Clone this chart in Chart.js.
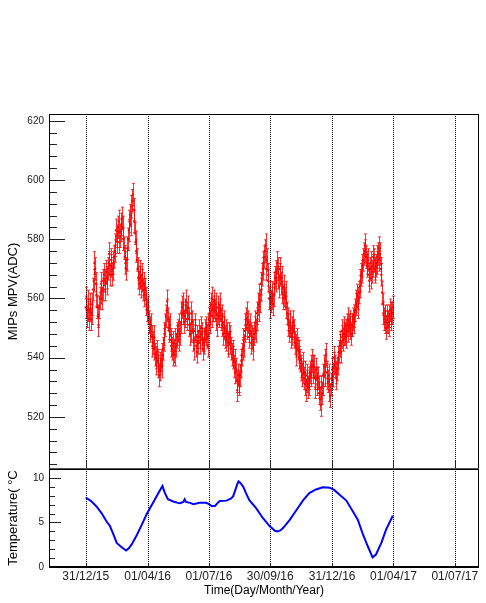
<!DOCTYPE html>
<html>
<head>
<meta charset="utf-8">
<script src="https://cdn.jsdelivr.net/npm/chart.js@4.4.1/dist/chart.umd.min.js"></script>
<style>
body { margin: 0; background: #fff; }
#wrap { position: relative; width: 486px; height: 603px; }
canvas { position: absolute; left: 0; top: 0; }
</style>
</head>
<body>
<div id="wrap">
<canvas id="mpvChart" width="486" height="603"></canvas>
<canvas id="tempChart" width="486" height="603"></canvas>
</div>
<script>
// time axis: days counted from 31/12/2015
let dateTickLabels = ['31/12/15', '01/04/16', '01/07/16', '30/09/16', '31/12/16', '01/04/17', '01/07/17'];
let mpvTicks = [520, 540, 560, 580, 600, 620];
let tempTicks = [0, 5, 10];

// MIPs MPV, one point per day from 31/12/15
let mpvStep = 1;
let mpvValues = [
    557, 560, 554, 556, 559, 553, 556, 558, 553, 555, 558, 563, 566, 572, 570, 565, 561, 557, 554, 551,
    557, 560, 562, 565, 560, 563, 566, 568, 563, 566, 569, 565, 567, 570, 572, 575, 568, 571, 573, 568,
    570, 572, 574, 576, 578, 583, 581, 579, 584, 586, 579, 581, 583, 585, 587, 584, 580, 577, 574, 572,
    570, 573, 577, 580, 583, 586, 588, 585, 591, 593, 595, 590, 586, 582, 579, 576, 573, 570, 567, 565,
    569, 567, 564, 568, 566, 563, 561, 565, 563, 560, 558, 556, 555, 557, 552, 550, 549, 551, 547, 544,
    545, 547, 543, 541, 540, 538, 542, 539, 537, 534, 536, 538, 539, 537, 541, 543, 546, 548, 551, 554,
    556, 559, 553, 550, 549, 551, 546, 544, 543, 541, 545, 542, 541, 546, 544, 548, 547, 549, 551, 546,
    548, 552, 555, 557, 558, 555, 552, 554, 556, 559, 553, 555, 557, 553, 551, 548, 549, 555, 552, 549,
    546, 543, 549, 551, 544, 542, 547, 545, 549, 547, 545, 550, 548, 546, 543, 545, 546, 549, 550, 548,
    547, 544, 551, 553, 555, 552, 558, 560, 554, 556, 559, 557, 556, 558, 553, 551, 557, 555, 554, 558,
    556, 553, 551, 554, 548, 552, 550, 547, 546, 549, 548, 544, 545, 548, 547, 545, 543, 541, 540, 542,
    537, 539, 535, 536, 532, 529, 534, 532, 531, 534, 537, 539, 541, 543, 546, 544, 549, 551, 553, 555,
    550, 552, 547, 549, 551, 548, 545, 547, 543, 546, 548, 550, 552, 549, 555, 553, 558, 556, 561, 559,
    565, 563, 568, 570, 572, 574, 576, 578, 570, 573, 566, 568, 560, 562, 557, 559, 562, 560, 558, 561,
    565, 567, 569, 566, 572, 570, 567, 564, 570, 568, 565, 567, 562, 560, 564, 561, 560, 562, 557, 555,
    553, 551, 549, 552, 551, 547, 548, 550, 552, 549, 547, 545, 544, 541, 546, 543, 542, 540, 539, 537,
    536, 534, 538, 535, 533, 535, 531, 529, 534, 532, 530, 531, 533, 535, 537, 534, 539, 537, 535, 537,
    533, 530, 536, 533, 531, 533, 528, 530, 526, 524, 530, 528, 534, 531, 537, 534, 539, 541, 535, 533,
    532, 534, 529, 527, 531, 533, 536, 534, 540, 538, 537, 535, 533, 536, 538, 540, 542, 544, 545, 542,
    549, 547, 546, 548, 550, 548, 547, 549, 551, 553, 549, 551, 552, 550, 548, 551, 551, 553, 554, 552,
    556, 558, 559, 561, 557, 560, 562, 564, 566, 568, 569, 571, 573, 575, 576, 578, 574, 572, 571, 573,
    568, 566, 570, 572, 567, 569, 571, 574, 573, 570, 569, 571, 572, 574, 575, 577, 573, 575, 570, 568,
    562, 558, 555, 553, 552, 554, 550, 552, 554, 552, 551, 554, 556, 555, 553, 555, 557
];
let mpvError = 3.8;

let tempDays = [
    0, 8, 16, 24, 31, 36, 41, 46, 53, 60, 64, 68, 76, 83, 91, 100, 108, 114, 117, 122,
    130, 137, 140, 145, 147, 149, 155, 160, 169, 179, 183, 187, 192, 196, 199, 209, 216, 219, 222, 225,
    227, 230, 234, 238, 243, 253, 263, 273, 281, 285, 289, 293, 303, 313, 323, 332, 342, 352, 362, 369,
    377, 387, 397, 404, 411, 419, 426, 431, 439, 446, 456
];
let tempValues = [
    7.8, 7.4, 6.8, 6.0, 5.1, 4.6, 3.7, 2.7, 2.25, 1.85, 2.1, 2.5, 3.6, 4.7, 6.0, 7.2, 8.3, 9.1, 8.4, 7.6,
    7.35, 7.2, 7.15, 7.3, 7.6, 7.3, 7.2, 7.05, 7.2, 7.2, 7.05, 6.85, 6.85, 7.2, 7.4, 7.45, 7.7, 7.95, 8.6, 9.3,
    9.6, 9.4, 9.0, 8.3, 7.5, 6.6, 5.5, 4.6, 4.07, 3.99, 4.1, 4.37, 5.3, 6.4, 7.5, 8.3, 8.7, 8.95, 8.9, 8.65,
    8.1, 7.46, 6.2, 5.3, 3.8, 2.3, 1.08, 1.4, 2.7, 4.2, 5.75
];

function dayFromLabel(label) {
    let [d, m, y] = label.split('/').map(Number);
    return Math.round((Date.UTC(2000 + y, m - 1, d) - Date.UTC(2015, 11, 31)) / 86400000);
}
let dateTickDays = dateTickLabels.map(dayFromLabel);

let xMin = -54.5, xMax = 584;
let labelFont = 'Liberation Sans';

// ROOT style frame: dotted date lines, inward ticks, box
function makeFrame(opts) {
    return {
        id: 'rootFrame',
        beforeDatasetsDraw(chart) {
            let {ctx, chartArea: a, scales: {x}} = chart;
            ctx.save();
            ctx.strokeStyle = '#000';
            ctx.lineWidth = 1;
            ctx.setLineDash([1, 1]);
            dateTickDays.forEach(function (d) {
                let px = Math.round(x.getPixelForValue(d)) + 0.5;
                ctx.beginPath();
                ctx.moveTo(px, a.top);
                ctx.lineTo(px, a.bottom);
                ctx.stroke();
            });
            ctx.restore();
        },
        afterDraw(chart) {
            let {ctx, chartArea: a, scales: {x, y}} = chart;
            ctx.save();
            ctx.strokeStyle = '#222';
            ctx.lineWidth = 1;
            ctx.beginPath();
            for (let v = opts.minorStart; v <= y.max; v += opts.minorStep) {
                let py = Math.round(y.getPixelForValue(v)) + 0.5;
                let len = opts.yTicks.includes(v) ? opts.majorLen : opts.minorLen;
                ctx.moveTo(a.left, py);
                ctx.lineTo(a.left + len, py);
            }
            dateTickDays.forEach(function (d) {
                let px = Math.round(x.getPixelForValue(d)) + 0.5;
                ctx.moveTo(px, a.bottom);
                ctx.lineTo(px, a.bottom - opts.xTickLen);
            });
            ctx.stroke();

            ctx.strokeStyle = '#000';
            ctx.strokeRect(Math.round(a.left) + 0.5, Math.round(a.top) + 0.5,
                Math.round(a.right - a.left) - 1, Math.round(a.bottom - a.top));
            ctx.fillStyle = opts.bottomColor;
            ctx.fillRect(a.left, a.bottom - 1, a.right - a.left, 2);
            ctx.restore();
        }
    };
}

let errorBars = {
    id: 'errorBars',
    beforeDatasetsDraw(chart) {
        let {ctx, scales: {x, y}} = chart;
        ctx.save();
        ctx.strokeStyle = 'rgba(255, 0, 0, 0.8)';
        ctx.lineWidth = 1;
        chart.data.datasets[0].data.forEach(function (p) {
            let px = Math.round(x.getPixelForValue(p.x)) + 0.5;
            let top = y.getPixelForValue(p.y + mpvError);
            let bot = y.getPixelForValue(p.y - mpvError);
            ctx.beginPath();
            ctx.moveTo(px, top);
            ctx.lineTo(px, bot);
            ctx.moveTo(px - 1.5, top);
            ctx.lineTo(px + 1.5, top);
            ctx.moveTo(px - 1.5, bot);
            ctx.lineTo(px + 1.5, bot);
            ctx.stroke();
        });
        ctx.restore();
    }
};

let mpvCanvas = document.getElementById('mpvChart');
let mpvChart = new Chart(mpvCanvas, {
    type: 'scatter',
    data: {
        datasets: [{
            data: mpvValues.map(function (v, i) { return {x: i * mpvStep, y: v}; }),
            pointStyle: 'rect',
            pointRadius: 1.5,
            backgroundColor: '#ff0000',
            borderWidth: 0
        }]
    },
    options: {
        responsive: false,
        animation: false,
        layout: {padding: {top: 114, right: 7, bottom: 134, left: 0}},
        plugins: {legend: {display: false}, tooltip: {enabled: false}},
        scales: {
            x: {type: 'linear', display: false, min: xMin, max: xMax},
            y: {
                min: 502.4,
                max: 622.3,
                afterBuildTicks: function (s) { s.ticks = mpvTicks.map(function (v) { return {value: v}; }); },
                afterFit: function (s) { s.width = 49; },
                grid: {display: false, drawTicks: false},
                border: {display: false},
                ticks: {padding: 5, color: '#222', font: {family: labelFont, size: 10}},
                title: {display: true, text: 'MIPs MPV(ADC)', color: '#000',
                    font: {family: labelFont, size: 13}, padding: {top: 6, bottom: 0}}
            }
        }
    },
    plugins: [errorBars, makeFrame({yTicks: mpvTicks, minorStart: 504, minorStep: 4,
        majorLen: 16, minorLen: 8, xTickLen: 9, bottomColor: '#555'})]
});

let tempCanvas = document.getElementById('tempChart');
let tempChart = new Chart(tempCanvas, {
    type: 'scatter',
    data: {
        datasets: [{
            data: tempValues.map(function (v, i) { return {x: tempDays[i], y: v}; }),
            showLine: true,
            borderColor: '#0000ff',
            borderWidth: 2,
            pointRadius: 0,
            tension: 0
        }]
    },
    options: {
        responsive: false,
        animation: false,
        layout: {padding: {top: 469, right: 7, bottom: 0, left: 0}},
        plugins: {legend: {display: false}, tooltip: {enabled: false}},
        scales: {
            x: {
                type: 'linear',
                min: xMin,
                max: xMax,
                afterBuildTicks: function (s) { s.ticks = dateTickDays.map(function (d) { return {value: d}; }); },
                afterFit: function (s) { s.height = 36; },
                grid: {display: false, drawTicks: false},
                border: {display: false},
                ticks: {
                    autoSkip: false,
                    maxRotation: 0,
                    padding: 2,
                    color: '#222',
                    font: {family: labelFont, size: 12},
                    callback: function (value, index) { return dateTickLabels[index]; }
                },
                title: {display: true, text: 'Time(Day/Month/Year)', color: '#000',
                    font: {family: labelFont, size: 12}, padding: 5}
            },
            y: {
                min: 0,
                max: 11,
                afterBuildTicks: function (s) { s.ticks = tempTicks.map(function (v) { return {value: v}; }); },
                afterFit: function (s) { s.width = 49; },
                grid: {display: false, drawTicks: false},
                border: {display: false},
                ticks: {padding: 5, color: '#222', font: {family: labelFont, size: 10}},
                title: {display: true, text: 'Temperature( °C', color: '#000',
                    font: {family: labelFont, size: 13}, padding: {top: 6, bottom: 0}}
            }
        }
    },
    plugins: [makeFrame({yTicks: tempTicks, minorStart: 0, minorStep: 1,
        majorLen: 12, minorLen: 6, xTickLen: 4, bottomColor: '#000'})]
});
</script>
</body>
</html>
